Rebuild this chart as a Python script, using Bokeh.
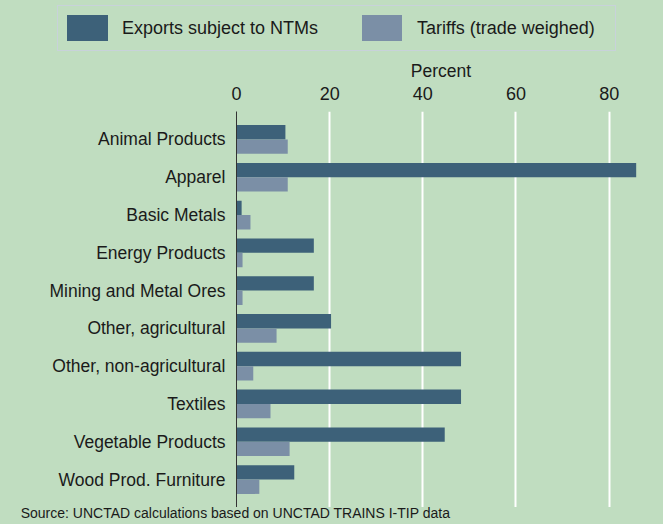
from bokeh.plotting import figure
from bokeh.layouts import column
from bokeh.models import FactorRange, Range1d, FixedTicker, ColumnDataSource, Div
from bokeh.transform import dodge
from bokeh.embed import file_html
from bokeh.resources import INLINE

categories = ["Animal Products", "Apparel", "Basic Metals", "Energy Products",
              "Mining and Metal Ores", "Other, agricultural", "Other, non-agricultural",
              "Textiles", "Vegetable Products", "Wood Prod. Furniture"]
exports_ntm = [10.5, 85.8, 1.1, 16.6, 16.6, 20.3, 48.2, 48.2, 44.7, 12.4]
tariffs = [11.0, 11.0, 3.0, 1.3, 1.3, 8.6, 3.6, 7.3, 11.4, 4.9]
x_ticks = [0, 20, 40, 60, 80]
series_names = ["Exports subject to NTMs", "Tariffs (trade weighed)"]
source_text = "Source: UNCTAD calculations based on UNCTAD TRAINS I-TIP data"

BG = "#c0ddc0"
C_NTM = "#3d6179"
C_TAR = "#7b8fa6"
TXT = "#1a1a1a"
FONT = "Liberation Sans"

W = 663
TOP_H = 53
BOT_H = 17
MAIN_H = 524 - TOP_H - BOT_H
FRAME_L = 236
FRAME_R = 18

src = ColumnDataSource(dict(cat=categories, ntm=exports_ntm, tar=tariffs))

# ---- legend strip (top), HTML
def abs_box(l, t, w, h, extra=""):
    return ("<div style=\"position:absolute;left:%spx;top:%spx;width:%spx;height:%spx;%s\"></div>"
            % (l, t, w, h, extra))

def abs_text(l, t, txt):
    return ("<div style=\"position:absolute;left:%spx;top:%spx;white-space:nowrap;"
            "line-height:normal\">%s</div>" % (l, t, txt))

legend_html = (
    "<div style=\"position:relative;width:%dpx;height:%dpx;font-family:'%s';font-size:18px;"
    "color:%s;background:%s;overflow:visible\">" % (W, TOP_H, FONT, TXT, BG)
    + abs_box(57, 5, 559, 46, "box-sizing:border-box;border:1.5px solid #c8d2da")
    + abs_box(67, 15, 41, 26, "background:%s" % C_NTM)
    + abs_text(122, 18, series_names[0])
    + abs_box(362, 15, 40, 26, "background:%s" % C_TAR)
    + abs_text(417, 18, series_names[1])
    + "</div>"
)
top = Div(text=legend_html, width=W, height=TOP_H, margin=0)

# ---- main chart
p = figure(width=W, height=MAIN_H,
           y_range=FactorRange(factors=list(reversed(categories)), range_padding=0.24,
                               range_padding_units="absolute"),
           x_range=Range1d(0, 87.8), x_axis_location="above",
           min_border_left=FRAME_L, min_border_right=FRAME_R, min_border_top=111 - TOP_H,
           min_border_bottom=0, margin=0,
           background_fill_color=BG, border_fill_color=BG, outline_line_color=None,
           toolbar_location=None, output_backend="svg")

r1 = p.hbar(y=dodge("cat", 0.19, range=p.y_range), left=0, right="ntm", height=0.38,
            source=src, fill_color=C_NTM, line_color=None)
r2 = p.hbar(y=dodge("cat", -0.19, range=p.y_range), left=0, right="tar", height=0.38,
            source=src, fill_color=C_TAR, line_color=None)

xa = p.xaxis[0]
xa.ticker = FixedTicker(ticks=x_ticks)
xa.axis_label = "Percent"
xa.axis_label_text_font = FONT
xa.axis_label_text_font_style = "normal"
xa.axis_label_text_font_size = "17.5px"
xa.axis_label_text_color = TXT
xa.axis_label_standoff = 3
xa.major_label_text_font = FONT
xa.major_label_text_font_size = "18px"
xa.major_label_text_color = TXT
xa.major_label_standoff = 6
xa.axis_line_color = None
xa.major_tick_line_color = None
xa.minor_tick_line_color = None

ya = p.yaxis[0]
ya.major_label_text_font = FONT
ya.major_label_text_font_size = "17.5px"
ya.major_label_text_color = TXT
ya.major_label_standoff = 5
ya.axis_line_color = "#333333"
ya.axis_line_width = 1
ya.major_tick_line_color = None
ya.minor_tick_line_color = None

p.xgrid.ticker = FixedTicker(ticks=x_ticks)
p.xgrid.grid_line_color = "white"
p.xgrid.grid_line_width = 2
p.ygrid.grid_line_color = None

# ---- source strip (bottom), HTML
source_html = (
    "<div style=\"position:relative;width:%dpx;height:%dpx;font-family:'%s';font-size:14px;"
    "color:%s;background:%s;overflow:visible\">" % (W, BOT_H, FONT, TXT, BG)
    + abs_text(20.7, -1.7, source_text)
    + "</div>"
)
bot = Div(text=source_html, width=W, height=BOT_H, margin=0)

layout = column(top, p, bot, spacing=0)
html = file_html(layout, INLINE)
html = html.replace("<head>", "<head><style>html,body{margin:0;padding:0;overflow:hidden;background:%s}</style>" % BG, 1)
open("out.html", "w").write(html)
